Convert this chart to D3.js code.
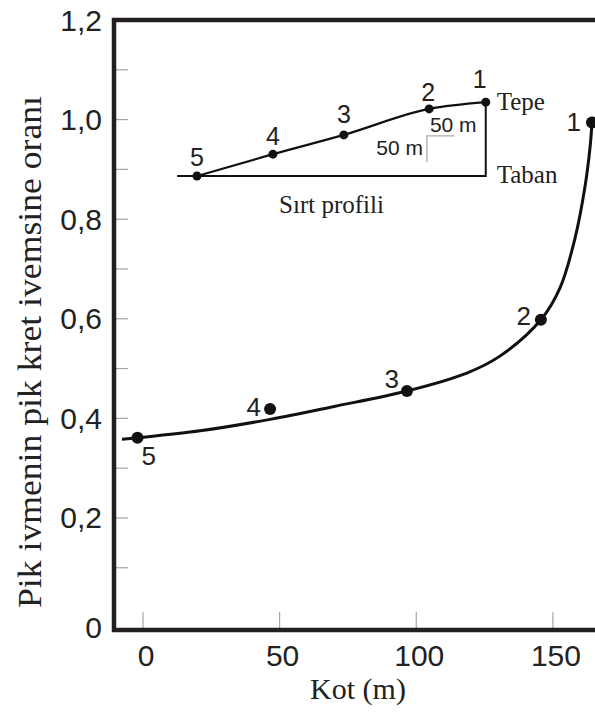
<!DOCTYPE html>
<html>
<head>
<meta charset="utf-8">
<script src="https://cdn.jsdelivr.net/npm/d3@7/dist/d3.min.js"></script>
<style>
  html, body { margin: 0; padding: 0; background: #fff; }
  svg { display: block; }
</style>
</head>
<body>
<svg id="chart" width="595" height="713"></svg>
<script>
// ---- Main chart data ----
const pointLabels = ["1", "2", "3", "4", "5"];
const pointKot = [164.3, 145.6, 96.6, 46.5, -2.0];
const pointRatio = [0.994, 0.598, 0.455, 0.419, 0.361];

// fitted curve
const curveKot = [-7.7, -2.0, 20.9, 46.5, 70.0, 96.6, 118.5, 130.6, 145.6, 152.6, 158.1, 161.7, 163.6, 164.3];
const curveRatio = [0.358, 0.361, 0.375, 0.398, 0.424, 0.455, 0.491, 0.525, 0.598, 0.662, 0.762, 0.864, 0.945, 0.994];

const xTickValues = [0, 50, 100, 150];
const xTickLabels = ["0", "50", "100", "150"];
const yTickValues = [0.1, 0.2, 0.3, 0.4, 0.5, 0.6, 0.7, 0.8, 0.9, 1.0, 1.1];
const yLabelValues = [0.2, 0.4, 0.6, 0.8, 1.0, 1.2];
const yLabelTexts = ["0,2", "0,4", "0,6", "0,8", "1,0", "1,2"];

const xTitle = "Kot (m)";
const yTitle = "Pik ivmenin pik kret ivemsine oranı";

// ---- Inset (ridge profile) data ----
const profLabels = ["1", "2", "3", "4", "5"];
const profDist = [525, 422, 267, 138, 0];     // m along profile
const profElev = [142, 129, 79, 42, 0];       // m above base
const baseStart = -36;
const scaleBarLen = 50;
const scaleBarCorner = [418, 77];
const insetTitle = "Sırt profili";
const topText = "Tepe";
const baseText = "Taban";
const scaleText = "50 m";

const sans = "'Liberation Sans', Arial, Helvetica, sans-serif";
const serif = "'Liberation Serif', 'Times New Roman', Times, serif";
const ink = "#231f20";

const svg = d3.select("#chart");

const x = d3.scaleLinear().domain([-10.6, 165.4]).range([114, 595]);
const y = d3.scaleLinear().domain([-0.025, 1.2]).range([630, 20]);

// ticks (inside, gray)
svg.append("g").selectAll("line").data(xTickValues).join("line")
  .attr("x1", d => x(d)).attr("x2", d => x(d))
  .attr("y1", y.range()[0]).attr("y2", y.range()[0] - 18)
  .attr("stroke", "#a5a5a5").attr("stroke-width", 1.2);

svg.append("g").selectAll("line").data(yTickValues).join("line")
  .attr("x1", x.range()[0]).attr("x2", x.range()[0] + 14)
  .attr("y1", d => y(d)).attr("y2", d => y(d))
  .attr("stroke", "#a5a5a5").attr("stroke-width", 1.2);

// frame
svg.append("rect")
  .attr("x", x.range()[0]).attr("y", y.range()[1])
  .attr("width", 520).attr("height", y.range()[0] - y.range()[1])
  .attr("fill", "none").attr("stroke", ink).attr("stroke-width", 4.5);

// tick labels
svg.append("g").selectAll("text").data(xTickValues).join("text")
  .attr("x", d => x(d) + 3).attr("y", 666)
  .attr("text-anchor", "middle")
  .attr("font-family", sans).attr("font-size", 30).attr("fill", "#222")
  .text((d, i) => xTickLabels[i]);

svg.append("g").selectAll("text").data(yLabelValues).join("text")
  .attr("x", 102).attr("y", d => y(d))
  .attr("dy", "0.35em")
  .attr("text-anchor", "end")
  .attr("font-family", sans).attr("font-size", 30).attr("fill", "#222")
  .text((d, i) => yLabelTexts[i]);

svg.append("text")
  .attr("x", 102).attr("y", y.range()[0] - 3)
  .attr("dy", "0.35em").attr("text-anchor", "end")
  .attr("font-family", sans).attr("font-size", 30).attr("fill", "#222")
  .text("0");

// axis titles
svg.append("text")
  .attr("x", 358).attr("y", 699)
  .attr("text-anchor", "middle")
  .attr("font-family", serif).attr("font-size", 30).attr("fill", "#222")
  .text(xTitle);

svg.append("text")
  .attr("transform", "translate(41,352) rotate(-90)")
  .attr("text-anchor", "middle")
  .attr("textLength", 512).attr("lengthAdjust", "spacingAndGlyphs")
  .attr("font-family", serif).attr("font-size", 33).attr("fill", "#222")
  .text(yTitle);

// main curve
const curveData = curveKot.map((k, i) => [k, curveRatio[i]]);
svg.append("path")
  .datum(curveData)
  .attr("d", d3.line().x(d => x(d[0])).y(d => y(d[1])).curve(d3.curveCatmullRom.alpha(0.5)))
  .attr("fill", "none").attr("stroke", "#111").attr("stroke-width", 3);

const pts = pointKot.map((k, i) => ({ k, r: pointRatio[i], lab: pointLabels[i] }));
svg.append("g").selectAll("circle").data(pts).join("circle")
  .attr("cx", d => x(d.k)).attr("cy", d => y(d.r)).attr("r", 6)
  .attr("fill", "#111");

const labelOffsets = {
  "1": { dx: -11, dy: 8, anchor: "end" },
  "2": { dx: -10, dy: 5, anchor: "end" },
  "3": { dx: -8, dy: -3, anchor: "end" },
  "4": { dx: -9, dy: 7, anchor: "end" },
  "5": { dx: 4, dy: 27, anchor: "start" }
};
svg.append("g").selectAll("text").data(pts).join("text")
  .attr("x", d => x(d.k) + labelOffsets[d.lab].dx)
  .attr("y", d => y(d.r) + labelOffsets[d.lab].dy)
  .attr("text-anchor", d => labelOffsets[d.lab].anchor)
  .attr("font-family", sans).attr("font-size", 26).attr("fill", "#222")
  .text(d => d.lab);

// ---- inset ----
const xi = d3.scaleLinear().domain([0, 100]).range([197, 252]);
const yi = d3.scaleLinear().domain([0, 100]).range([176, 124]);
const g = svg.append("g");

const topDist = d3.max(profDist);
const topElev = d3.max(profElev);
// base and vertical line
g.append("path")
  .attr("d", d3.line()([[xi(baseStart), yi(0)], [xi(topDist), yi(0)], [xi(topDist), yi(topElev)]]))
  .attr("fill", "none").attr("stroke", "#111").attr("stroke-width", 2);

const prof = profDist.map((d, i) => ({ d, e: profElev[i], lab: profLabels[i] })).sort((a, b) => a.d - b.d);
g.append("path")
  .datum(prof)
  .attr("d", d3.line().x(p => xi(p.d)).y(p => yi(p.e)).curve(d3.curveMonotoneX))
  .attr("fill", "none").attr("stroke", "#111").attr("stroke-width", 2.2);

g.selectAll("circle").data(prof).join("circle")
  .attr("cx", p => xi(p.d)).attr("cy", p => yi(p.e)).attr("r", 4.5)
  .attr("fill", "#111");

const profOffsets = {
  "1": { dx: -6, dy: -14 },
  "2": { dx: -1, dy: -8 },
  "3": { dx: 0, dy: -12 },
  "4": { dx: 0, dy: -9 },
  "5": { dx: 0, dy: -10 }
};
g.selectAll("text.pl").data(prof).join("text")
  .attr("class", "pl")
  .attr("x", p => xi(p.d) + profOffsets[p.lab].dx)
  .attr("y", p => yi(p.e) + profOffsets[p.lab].dy)
  .attr("text-anchor", "middle")
  .attr("font-family", sans).attr("font-size", 25).attr("fill", "#222")
  .text(p => p.lab);

// scale bar
const [cD, cE] = scaleBarCorner;
g.append("path")
  .attr("d", d3.line()([[xi(cD), yi(cE - scaleBarLen)], [xi(cD), yi(cE)], [xi(cD + scaleBarLen), yi(cE)]]))
  .attr("fill", "none").attr("stroke", "#aaa").attr("stroke-width", 1.3);

g.append("text")
  .attr("x", xi(cD) + 3).attr("y", yi(cE) - 4)
  .attr("font-family", sans).attr("font-size", 21).attr("fill", "#222")
  .text(scaleText);
g.append("text")
  .attr("x", xi(cD) - 4).attr("y", yi(cE - scaleBarLen / 2) + 6)
  .attr("text-anchor", "end")
  .attr("font-family", sans).attr("font-size", 21).attr("fill", "#222")
  .text(scaleText);

g.append("text")
  .attr("x", xi(topDist) + 11).attr("y", yi(topElev) + 8)
  .attr("font-family", serif).attr("font-size", 25).attr("fill", "#222")
  .text(topText);
g.append("text")
  .attr("x", xi(topDist) + 11).attr("y", yi(0) + 7)
  .attr("font-family", serif).attr("font-size", 25).attr("fill", "#222")
  .text(baseText);
g.append("text")
  .attr("x", xi((baseStart + topDist) / 2)).attr("y", 213)
  .attr("text-anchor", "middle")
  .attr("font-family", serif).attr("font-size", 25).attr("fill", "#222")
  .text(insetTitle);
</script>
</body>
</html>
